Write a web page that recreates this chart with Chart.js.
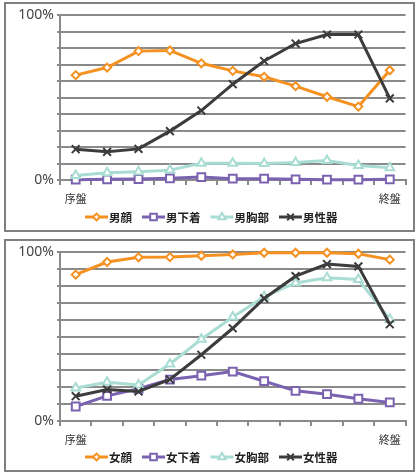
<!DOCTYPE html>
<html>
<head>
<meta charset="utf-8">
<script src="https://cdn.jsdelivr.net/npm/chart.js"></script>
<style>
  body { margin: 0; background: #fff; }
  .box { position: absolute; left: 4px; width: 407px; border: 2px solid #808080; }
  #box1 { top: 2px; height: 226px; }
  #box2 { top: 239px; height: 229px; }
  canvas { display: block; }
</style>
</head>
<body>
<div class="box" id="box1"><canvas id="maleChart" width="407" height="226"></canvas></div>
<div class="box" id="box2"><canvas id="femaleChart" width="407" height="229"></canvas></div>
<script>
// 11 stages, only the first and last are labelled
var stageLabels = ['序盤', '', '', '', '', '', '', '', '', '', '終盤'];

var maleNames = ['男顔', '男下着', '男胸部', '男性器'];
var maleFace = [63.7, 68.3, 78.3, 78.7, 70.9, 66.3, 62.7, 57.0, 50.6, 44.6, 66.7];
var maleUnderwear = [0.2, 0.4, 0.6, 1.0, 1.8, 0.8, 0.8, 0.4, 0.2, 0.2, 0.4];
var maleChest = [2.8, 4.4, 5.0, 6.0, 10.2, 10.2, 10.0, 10.6, 11.8, 8.8, 7.4];
var maleGenitals = [18.7, 17.1, 18.9, 29.7, 42.2, 58.2, 72.3, 82.9, 88.4, 88.4, 49.6];

var femaleNames = ['女顔', '女下着', '女胸部', '女性器'];
var femaleFace = [86.8, 94.3, 97.1, 97.2, 98.0, 98.8, 99.8, 99.8, 99.8, 99.2, 95.7];
var femaleUnderwear = [8.6, 14.9, 19.1, 24.6, 26.9, 29.3, 23.6, 17.9, 15.9, 13.2, 11.0];
var femaleChest = [19.6, 23.0, 21.4, 33.8, 48.5, 61.7, 73.7, 81.9, 84.9, 83.9, 60.3];
var femaleGenitals = [14.7, 18.7, 17.5, 24.6, 39.3, 55.0, 72.7, 85.9, 93.1, 91.7, 57.4];

var seriesStyle = [
  { color: '#F59120', pointStyle: 'rectRot', radius: 4 },
  { color: '#7B62B0', pointStyle: 'rect', radius: 5.5 },
  { color: '#A9DDD4', pointStyle: 'triangle', radius: 5 },
  { color: '#3C3C3C', pointStyle: 'crossRot', radius: 5.5 }
];
var gridGray = '#8a8a8a';

function makeDatasets(names, values) {
  return names.map(function (n, i) {
    var s = seriesStyle[i];
    return {
      label: n,
      data: values[i],
      borderColor: s.color,
      backgroundColor: s.color,
      borderWidth: 3,
      tension: 0,
      pointStyle: s.pointStyle,
      pointRadius: s.radius,
      pointBackgroundColor: '#fff',
      pointBorderColor: s.color,
      pointBorderWidth: 2,
      clip: false,
      order: 3 - i
    };
  });
}

// legend drawn by hand: short line with marker, then bold name
var lineLegend = {
  id: 'lineLegend',
  afterDraw: function (chart, args, opts) {
    var ctx = chart.ctx;
    var x = opts.x, y = opts.y;
    ctx.save();
    ctx.font = 'bold 11.5px "Noto Sans CJK JP", sans-serif';
    ctx.textBaseline = 'middle';
    chart.data.datasets.forEach(function (ds) {
      ctx.strokeStyle = ds.borderColor;
      ctx.lineWidth = 3;
      ctx.beginPath();
      ctx.moveTo(x, y);
      ctx.lineTo(x + 23, y);
      ctx.stroke();
      ctx.fillStyle = '#fff';
      ctx.strokeStyle = ds.borderColor;
      ctx.lineWidth = 2;
      Chart.helpers.drawPoint(ctx, {
        pointStyle: ds.pointStyle,
        radius: ds.pointRadius * 0.85,
        borderWidth: 2,
        rotation: 0
      }, x + 11.5, y);
      ctx.fillStyle = '#222';
      ctx.fillText(ds.label, x + 24, y + 0.5);
      x += 24 + ctx.measureText(ds.label).width + 10;
    });
    ctx.restore();
  }
};

function makeChart(id, names, values, axisHeight, legendY) {
  return new Chart(document.getElementById(id), {
    type: 'line',
    data: { labels: stageLabels, datasets: makeDatasets(names, values) },
    plugins: [lineLegend],
    options: {
      responsive: false,
      animation: false,
      layout: { padding: { top: 10, right: 6, left: 0, bottom: 0 } },
      plugins: {
        legend: { display: false },
        tooltip: { enabled: false },
        lineLegend: { x: 79, y: legendY }
      },
      scales: {
        x: {
          offset: true,
          afterFit: function (s) { s.height = axisHeight; },
          grid: { offset: true, drawOnChartArea: false, drawTicks: true, tickLength: 5, color: gridGray, lineWidth: 2 },
          border: { display: true, color: gridGray, width: 2 },
          ticks: {
            autoSkip: false, maxRotation: 0, padding: 7,
            color: '#333', font: { family: '"Noto Sans CJK JP", sans-serif', size: 11 }
          }
        },
        y: {
          min: 0, max: 100,
          afterFit: function (s) { s.width = 54; },
          grid: { color: gridGray, lineWidth: 2, tickLength: 3 },
          border: { display: true, color: gridGray, width: 2 },
          ticks: {
            stepSize: 10, autoSkip: false, padding: 3, color: '#444',
            font: { family: '"Noto Sans", sans-serif', size: 14 },
            callback: function (v) { return (v === 0 || v === 100) ? v + '%' : ''; }
          }
        }
      }
    }
  });
}

makeChart('maleChart', maleNames, [maleFace, maleUnderwear, maleChest, maleGenitals], 50, 213);
makeChart('femaleChart', femaleNames, [femaleFace, femaleUnderwear, femaleChest, femaleGenitals], 49, 216);
</script>
</body>
</html>
